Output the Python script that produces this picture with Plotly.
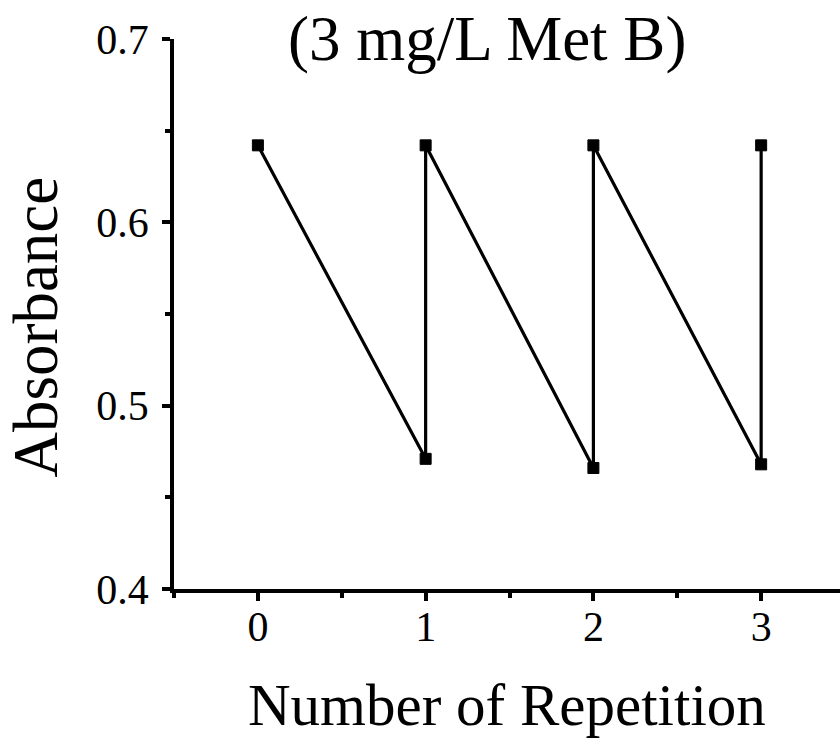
import plotly.graph_objects as go

# Absorbance measured after each repetition cycle (3 mg/L Met B)
repetition = [0, 1, 1, 2, 2, 3, 3]
absorbance = [0.642, 0.471, 0.642, 0.466, 0.642, 0.468, 0.642]

x_ticks = [0, 1, 2, 3]
x_tick_labels = ["0", "1", "2", "3"]
y_ticks = [0.4, 0.5, 0.6, 0.7]
y_tick_labels = ["0.4", "0.5", "0.6", "0.7"]

FONT = "Liberation Serif, Times New Roman, serif"

fig = go.Figure()
fig.add_trace(go.Scatter(
    x=repetition,
    y=absorbance,
    mode="lines+markers",
    line=dict(color="black", width=3.2),
    marker=dict(symbol="square", size=11, color="black",
                line=dict(color="black", width=1)),
    showlegend=False,
    cliponaxis=False,
))

axis_common = dict(
    showgrid=False,
    zeroline=False,
    showline=True,
    linecolor="black",
    linewidth=3.5,
    ticks="outside",
    ticklen=8,
    tickwidth=3.5,
    tickcolor="black",
    tickfont=dict(family=FONT, size=42, color="black"),
    mirror=False,
)

fig.update_xaxes(
    range=[-0.5, 3.47],
    tickvals=x_ticks,
    ticktext=x_tick_labels,
    ticklabelstandoff=-10,
    minor=dict(dtick=0.5, tick0=0, ticks="outside", ticklen=5, tickwidth=3.5, tickcolor="black"),
    **axis_common,
)
fig.update_yaxes(
    range=[0.4, 0.7],
    tickvals=y_ticks,
    ticktext=y_tick_labels,
    ticklabelstandoff=5,
    minor=dict(dtick=0.05, tick0=0.4, ticks="outside", ticklen=5, tickwidth=3.5, tickcolor="black"),
    **axis_common,
)

fig.add_annotation(
    text="(3 mg/L Met B)", xref="paper", yref="paper",
    x=0.4707, y=1.0, xanchor="center", yanchor="middle",
    showarrow=False, font=dict(family=FONT, size=63, color="black"),
)
fig.add_annotation(
    text="Number of Repetition", xref="paper", yref="paper",
    x=0.5, y=-0.211, xanchor="center", yanchor="middle",
    showarrow=False, font=dict(family=FONT, size=59, color="black"),
)
fig.add_annotation(
    text="Absorbance", xref="paper", yref="paper",
    x=-0.207, y=0.4755, xanchor="center", yanchor="middle", textangle=-90,
    showarrow=False, font=dict(family=FONT, size=63, color="black"),
)

fig.update_layout(
    width=840,
    height=738,
    margin=dict(l=174, r=0, t=39, b=149),
    paper_bgcolor="white",
    plot_bgcolor="white",
)

fig.write_html("out.html")
